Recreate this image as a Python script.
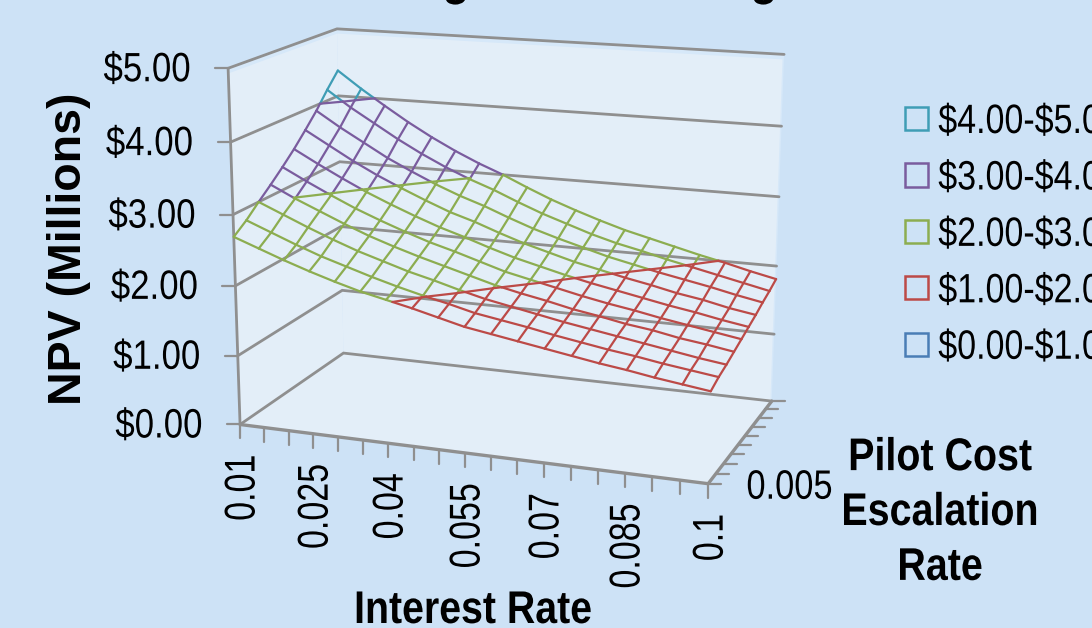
import numpy as np, pandas as pd, matplotlib
matplotlib.use("Agg")
import matplotlib.pyplot as plt, seaborn as sns
from matplotlib.patches import Patch, Polygon
from matplotlib.patheffects import AbstractPathEffect
from matplotlib.transforms import Affine2D

interest_rate = [0.01, 0.015, 0.02, 0.025, 0.03, 0.035, 0.04, 0.045, 0.05, 0.055,
                 0.06, 0.065, 0.07, 0.075, 0.08, 0.085, 0.09, 0.095, 0.1]
band_labels = ["$4.00-$5.00", "$3.00-$4.00", "$2.00-$3.00", "$1.00-$2.00", "$0.00-$1.00"]
band_colors = ["#3F9DB5", "#7A5C9E", "#8CAD50", "#BC4A47", "#4A7DB5"]
npv_labels = ["$0.00", "$1.00", "$2.00", "$3.00", "$4.00", "$5.00"]

# NPV in millions: one row per pilot cost escalation step, one column per interest rate
npv_row0 = [2.69,2.56,2.43,2.31,2.20,2.10,2.02,1.94,1.85,1.76,1.70,1.64,1.58,1.52,1.46,1.41,1.35,1.30,1.25]
npv_row1 = [2.83,2.69,2.55,2.42,2.31,2.20,2.10,2.01,1.93,1.84,1.78,1.72,1.65,1.59,1.53,1.48,1.42,1.37,1.32]
npv_row2 = [3.00,2.85,2.70,2.56,2.43,2.32,2.21,2.12,2.02,1.93,1.86,1.79,1.72,1.66,1.60,1.54,1.48,1.42,1.37]
npv_row3 = [3.16,2.99,2.84,2.69,2.55,2.43,2.32,2.22,2.12,2.02,1.94,1.87,1.79,1.73,1.66,1.61,1.54,1.49,1.43]
npv_row4 = [3.33,3.15,2.98,2.82,2.68,2.55,2.43,2.33,2.22,2.11,2.03,1.95,1.87,1.80,1.74,1.67,1.61,1.55,1.49]
npv_row5 = [3.51,3.32,3.14,2.97,2.82,2.68,2.55,2.44,2.32,2.21,2.12,2.03,1.95,1.88,1.81,1.74,1.68,1.61,1.55]
npv_row6 = [3.71,3.51,3.31,3.13,2.97,2.82,2.68,2.57,2.44,2.32,2.22,2.12,2.04,1.96,1.89,1.81,1.75,1.67,1.61]
npv_row7 = [3.92,3.70,3.50,3.30,3.13,2.97,2.83,2.71,2.57,2.44,2.33,2.23,2.13,2.05,1.97,1.90,1.83,1.75,1.68]
npv_row8 = [4.16,3.92,3.71,3.50,3.31,3.14,2.99,2.86,2.71,2.57,2.45,2.33,2.23,2.15,2.06,1.98,1.90,1.82,1.74]
npv_row9 = [4.38,4.13,3.90,3.68,3.48,3.30,3.14,3.00,2.84,2.69,2.56,2.44,2.33,2.24,2.15,2.06,1.98,1.89,1.81]
npv = np.array([npv_row0, npv_row1, npv_row2, npv_row3, npv_row4,
                npv_row5, npv_row6, npv_row7, npv_row8, npv_row9])

# Perspective camera taking (rate fraction, escalation fraction, NPV) to canvas pixels
CAMERA = np.array([[415.088959, 139.161845, -4.411862, 240.057043],
                   [22.983644, -34.658964, -71.850329, 424.492517],
                   [-0.074879, 0.104091, -0.008864, 1.0]])

def project(u, v, w):
    h = CAMERA @ np.array([u, v, w, 1.0])
    return h[0]/h[2], h[1]/h[2]

class Squeeze(AbstractPathEffect):
    """Condense glyph outlines along the text direction."""
    def __init__(self, k, anchor="center"):
        super().__init__()
        self.k, self.anchor = k, anchor
    def draw_path(self, renderer, gc, tpath, affine, rgbFace=None):
        e = tpath.get_extents()
        a = {"left": e.x0, "right": e.x1, "center": (e.x0+e.x1)/2}[self.anchor]
        t = Affine2D().translate(-a, 0).scale(self.k, 1).translate(a, 0)
        renderer.draw_path(gc, tpath, t + affine, rgbFace)

sns.set_theme(style="white")
plt.rcParams["font.family"] = ["Liberation Sans", "DejaVu Sans"]
plt.rcParams["text.parse_math"] = False
BG, WALL, STRIP, GREY = "#CDE2F6", "#E3EEF8", "#D6E8F9", "#8F8F8F"

fig = plt.figure(figsize=(10.92, 6.28), dpi=100, facecolor=BG)
ax = fig.add_axes([0, 0, 1, 1])

def poly(pts, color, z=1):
    ax.add_patch(Polygon([project(*p) for p in pts], closed=True, fc=color, ec="none", zorder=z))

# walls and floor of the box
poly([(0,0,0),(0,1,0),(0,1,5),(0,0,5)], STRIP)
poly([(0,1,0),(1,1,0),(1,1,5),(0,1,5)], STRIP)
top = 4.93
poly([(0,0,0),(0,1,0),(0,1,top),(0,0,top)], WALL)
poly([(0,1,0),(.997,1,0),(.997,1,top),(0,1,top)], WALL)
poly([(0,0,0),(1,0,0),(1,1,0),(0,1,0)], WALL)

def line(pts, lw=2.0, z=2):
    xs, ys = zip(*[project(*p) for p in pts])
    ax.plot(xs, ys, color=GREY, lw=lw, zorder=z, solid_joinstyle="miter")

for w in range(6):
    line([(0,0,w),(0,1,w),(1,1,w)])
line([(0,0,0),(0,0,5)])
line([(0,0,0),(1,0,0)], lw=2.4)
line([(1,0,0),(1,1,0)], lw=2.4)

def tick(p, dx, dy):
    x, y = project(*p)
    ax.plot([x, x+dx], [y, y+dy], color=GREY, lw=1.6, zorder=2)

for i in range(19):
    tick((i/18, 0, 0), 0, 14)
for j in range(10):
    tick((1, j/9, 0), 13, 0)
for w in range(6):
    tick((0, 0, w), -13, 0)

# surface wires, broken at each whole-dollar level and coloured by band
def band_of(value):
    return band_labels[4 - int(min(np.floor(value), 4))]

segments = []
def add_seg(p, q, band):
    sid = len(segments)
    segments.append({"id": sid, "band": band, "x": p[0], "y": p[1]})
    segments.append({"id": sid, "band": band, "x": q[0], "y": q[1]})

def wire(a, b):
    lo, hi = sorted((a[2], b[2]))
    cuts = [0.0] + [(lv - a[2])/(b[2]-a[2]) for lv in range(1, 6) if lo < lv < hi]
    cuts = sorted(cuts) + [1.0]
    for c0, c1 in zip(cuts[:-1], cuts[1:]):
        p0 = [a[k] + c0*(b[k]-a[k]) for k in range(3)]
        p1 = [a[k] + c1*(b[k]-a[k]) for k in range(3)]
        add_seg(project(*p0), project(*p1), band_of((p0[2]+p1[2])/2))

nrow, ncol = npv.shape
node = lambda j, i: (i/(ncol-1), j/(nrow-1), npv[j, i])
for j in range(nrow):
    for i in range(ncol-1):
        wire(node(j, i), node(j, i+1))
for i in range(ncol):
    for j in range(nrow-1):
        wire(node(j, i), node(j+1, i))

# level lines across each cell take the colour of the band below them
for j in range(nrow-1):
    for i in range(ncol-1):
        ring = [node(j,i), node(j,i+1), node(j+1,i+1), node(j+1,i), node(j,i)]
        for level in range(1, 5):
            hits = []
            for a, b in zip(ring[:-1], ring[1:]):
                if (a[2]-level)*(b[2]-level) < 0:
                    t = (level-a[2])/(b[2]-a[2])
                    hits.append(project(*[a[k]+t*(b[k]-a[k]) for k in range(3)]))
            if len(hits) == 2:
                add_seg(hits[0], hits[1], band_labels[5-level])

wires = pd.DataFrame(segments)
sns.lineplot(data=wires, x="x", y="y", hue="band", units="id", estimator=None, sort=False,
             hue_order=band_labels, palette=dict(zip(band_labels, band_colors)),
             linewidth=1.6, legend=False, ax=ax, zorder=3)

ax.set_xlim(0, 1092)
ax.set_ylim(628, 0)
ax.axis("off")

# tick labels
for w, lab in enumerate(npv_labels):
    x, y = project(0, 0, w)
    ax.text(x-37, y+2, lab, ha="right", va="center", fontsize=29.5, color="black",
            path_effects=[Squeeze(.85, "right")])
for i in range(0, 19, 3):
    x, y = project(i/18, 0, 0)
    ax.text(x+3.5, y+30, f"{interest_rate[i]:g}", rotation=90, ha="center", va="top", fontsize=31,
            color="black", path_effects=[Squeeze(.79, "right")])
x, y = project(1, 0, 0)
ax.text(x+38, y+4, "0.005", ha="left", va="center", fontsize=29.5, color="black",
        path_effects=[Squeeze(.84, "left")])

# axis titles
ax.text(69, 249, "NPV (Millions)", rotation=90, ha="center", va="center", fontsize=33.5,
        fontweight="bold", color="black")
ax.text(473, 611, "Interest Rate", ha="center", va="center", fontsize=33, fontweight="bold",
        color="black", path_effects=[Squeeze(.857)])
ax.text(940, 513, "Pilot Cost\nEscalation\nRate", ha="center", va="center", fontsize=33,
        fontweight="bold", color="black", linespacing=1.32, path_effects=[Squeeze(.86)])

# remains of the title lying above the top edge
for gx in (456, 764):
    ax.text(gx, -6, "g", ha="center", va="baseline", fontsize=36, fontweight="bold", color="black",
            clip_on=False, path_effects=[Squeeze(.9)])

handles = [Patch(facecolor="none", edgecolor=c, linewidth=1.8) for c in band_colors]
leg = fig.legend(handles, band_labels, loc="upper left", bbox_to_anchor=(905/1092, 1-103/628),
                 frameon=False, fontsize=29.5, handlelength=.56, handleheight=.5,
                 handletextpad=.25, labelspacing=.45, borderpad=0, borderaxespad=0)
for t in leg.get_texts():
    t.set_path_effects([Squeeze(.83, "left")])
    t.set_color("black")

fig.savefig("out.png", dpi=100, facecolor=BG)
